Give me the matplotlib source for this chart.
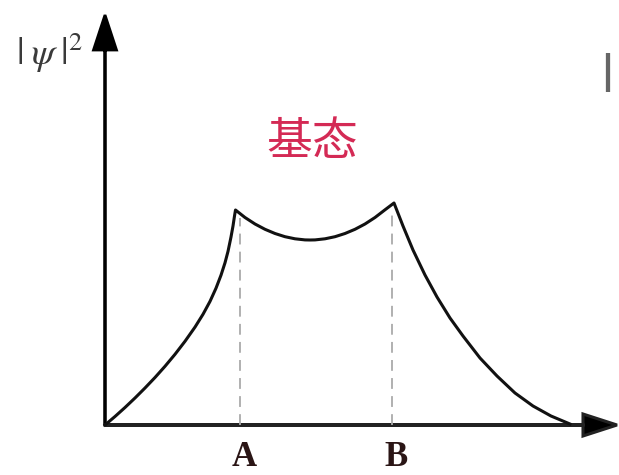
import matplotlib.pyplot as plt

plt.rcParams['font.family'] = ['Noto Sans CJK SC', 'DejaVu Sans']
plt.rcParams['mathtext.fontset'] = 'stix'

# |psi|^2 sketch of the ground state, in screen-like units (origin at the axes corner)
rise_x = [0, 10, 20, 30, 40, 50, 60, 70, 80, 90, 98, 105, 111, 116, 120, 123, 126, 128, 129.5, 130.5]
rise_y = [0, 8.5, 17.5, 27, 37, 47.5, 58.7, 70.7, 83.7, 97.9, 110.7, 123.6, 136.8, 149.8, 162.2,
          173.6, 188, 199, 209, 215]

dip_x = [130.5, 140, 150, 160, 170, 180, 190, 200, 205, 210, 220, 230, 240, 250, 260, 270, 280, 289]
dip_y = [215, 207.5, 201, 195.7, 191.5, 188.3, 186.2, 185.1, 185, 185.1, 186.2, 188.3, 191.5, 195.7,
         201, 207.5, 215.2, 222]

fall_x = [289, 298, 308, 320, 332, 345, 358, 375, 392, 410, 428, 446, 465]
fall_y = [222, 199, 175, 150, 128, 107, 89, 67, 49, 32, 19, 9, 1]

pos_a, pos_b = 135, 287
peak_a, peak_b = 215, 222
labels = ['A', 'B']

fig = plt.figure(figsize=(6.19, 4.75), dpi=100)
ax = fig.add_axes([0, 0, 1, 1])
ax.set_xlim(-105, 514)
ax.set_ylim(-50, 425)
ax.axis('off')

curve_x = rise_x + dip_x[1:] + fall_x[1:]
curve_y = rise_y + dip_y[1:] + fall_y[1:]
ax.plot(curve_x, curve_y, color='#111111', lw=2.2, solid_joinstyle='round')

# dashed guides down from the two cusps
for xp, yp in [(pos_a, peak_a), (pos_b, peak_b)]:
    ax.plot([xp, xp], [0, yp - 8], color='#aaaaaa', lw=1.3, ls=(0, (6, 4)))

# axes with arrow heads
ax.arrow(0, 0, 0, 410, head_width=23, head_length=35, length_includes_head=True,
         lw=2, fc='black', ec='black')
ax.arrow(0, 0, 512, 0, head_width=22, head_length=34, length_includes_head=True,
         lw=2.2, fc='black', ec='#222222')

ax.text(-89, 372, r'$|\;\psi\;|^{2}$', fontsize=27, color='#3a3a3a',
        ha='left', va='center')
ax.text(207, 283, '基态', fontsize=33, color='#d42a55', ha='center', va='center')
for xp, lab in zip([pos_a, pos_b], labels):
    ax.text(xp + 4, -33, lab, fontsize=25, fontweight='bold', color='#2a1515',
            family='Liberation Serif', ha='center', va='center')
ax.text(502, 352, '|', fontsize=28, color='#666666', ha='center', va='center',
        family='DejaVu Sans', fontweight='bold')

fig.savefig('out.png', dpi=100)
